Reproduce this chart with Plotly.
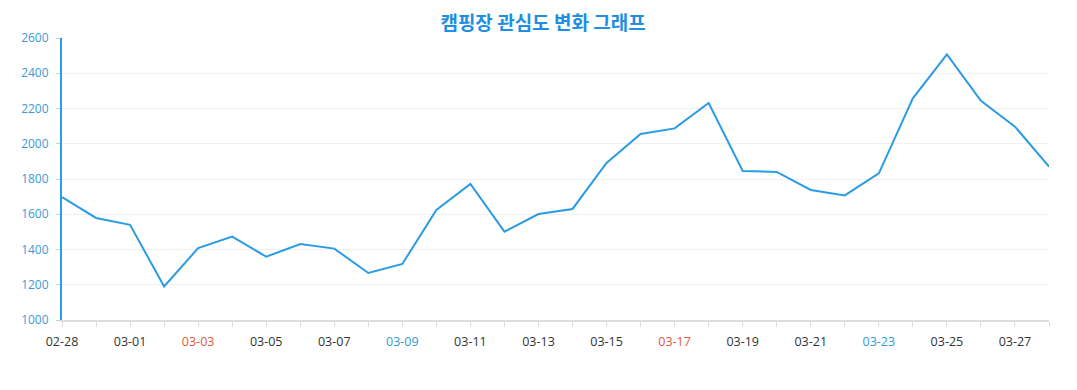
import plotly.graph_objects as go

dates = ["02-28", "02-29"] + ["03-%02d" % d for d in range(1, 29)]
values = [1698, 1579, 1540, 1190, 1408, 1473, 1359, 1431, 1405, 1267,
          1318, 1624, 1772, 1501, 1601, 1630, 1891, 2055, 2087, 2231,
          1845, 1840, 1738, 1707, 1832, 2258, 2507, 2244, 2097, 1870]
red_labels = ["03-03", "03-17"]
blue_labels = ["03-09", "03-23"]

x = list(range(len(dates)))
ticktext = []
for i, d in enumerate(dates):
    if i % 2 == 1:
        ticktext.append("")
    elif d in red_labels:
        ticktext.append('<span style="color:#e0593a">%s</span>' % d)
    elif d in blue_labels:
        ticktext.append('<span style="color:#2f9bd6">%s</span>' % d)
    else:
        ticktext.append(d)

fig = go.Figure(go.Scatter(
    x=x, y=values, mode="lines",
    line=dict(color="#2b9be3", width=2),
    text=dates, hovertemplate="%{text}: %{y}<extra></extra>",
))

# page body has an 8px margin, so the figure is sized to fit the remaining window
fig.update_layout(
    width=1069, height=382,
    margin=dict(l=54, r=28, t=30, b=70, autoexpand=False),
    paper_bgcolor="white", plot_bgcolor="white",
    showlegend=False,
    title=dict(text="<b>캠핑장 관심도 변화 그래프</b>", x=0.5005, xanchor="center",
               y=0.961, yanchor="middle", yref="container", automargin=False,
               font=dict(family="Noto Sans CJK KR", size=19, color="#1e8fe3")),
    font=dict(family="Open Sans", size=12, color="#333333"),
)
fig.update_xaxes(
    range=[0, 29], tickmode="array", tickvals=x, ticktext=ticktext,
    showgrid=False, showline=True, linecolor="#dddddd", linewidth=2,
    ticks="outside", ticklen=5, tickcolor="#dddddd", tickwidth=1,
    ticklabelstandoff=4, automargin=False,
    tickfont=dict(family="Open Sans", size=12.5, color="#333333"),
    tickangle=0, zeroline=False, fixedrange=True,
)
fig.update_yaxes(
    range=[1000, 2600], dtick=200, tick0=1000,
    showgrid=True, gridcolor="#f0f0f0", gridwidth=1,
    showline=True, linecolor="#2b9be3", linewidth=2,
    ticks="outside", ticklen=4, tickcolor="#cccccc",
    ticklabelstandoff=5, automargin=False,
    tickfont=dict(family="Open Sans", size=12, color="#3a9ad8"),
    zeroline=False, fixedrange=True,
)

fig.write_html("out.html")
